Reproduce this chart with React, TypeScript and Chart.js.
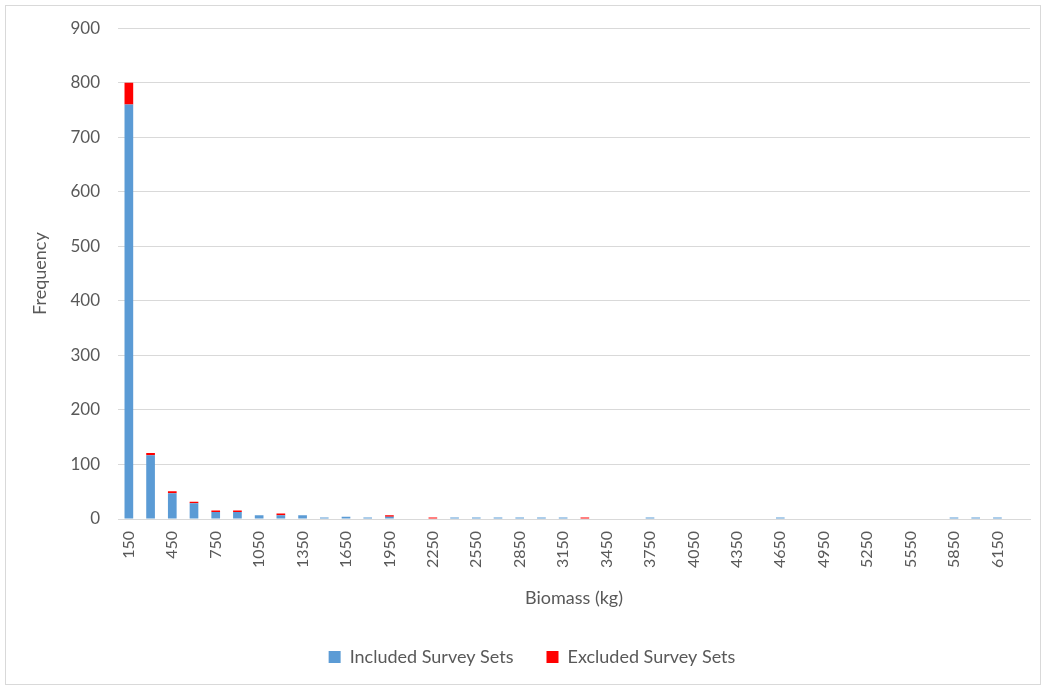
import { useEffect, useRef } from "react";
import { Chart, registerables } from "chart.js";

Chart.register(...registerables);

const binLabels = [
  "150", "300", "450", "600", "750", "900", "1050", "1200", "1350", "1500",
  "1650", "1800", "1950", "2100", "2250", "2400", "2550", "2700", "2850", "3000",
  "3150", "3300", "3450", "3600", "3750", "3900", "4050", "4200", "4350", "4500",
  "4650", "4800", "4950", "5100", "5250", "5400", "5550", "5700", "5850", "6000",
  "6150", "6300",
];

const includedSets = [
  760, 117, 47, 29, 13, 13, 7, 7, 7, 2,
  4, 2, 4, 0, 0, 1, 1, 1, 1, 1,
  1, 0, 0, 0, 1, 0, 0, 0, 0, 0,
  1, 0, 0, 0, 0, 0, 0, 0, 1, 1,
  1, 0,
];

const excludedSets = [
  40, 4, 4, 2, 2, 2, 0, 3, 0, 0,
  0, 0, 3, 0, 1, 0, 0, 0, 0, 0,
  0, 1, 0, 0, 0, 0, 0, 0, 0, 0,
  0, 0, 0, 0, 0, 0, 0, 0, 0, 0,
  0, 0,
];

const seriesNames = ["Included Survey Sets", "Excluded Survey Sets"];
const yMin = 0;
const yMax = 900;
const yStep = 100;

const FONT = "Lato, 'Open Sans', sans-serif";
const TEXT = "#595959";
const GRID = "#d9d9d9";

const orNull = (arr: number[]) => arr.map((v) => (v === 0 ? null : v));

export default function App() {
  const ref = useRef<HTMLCanvasElement | null>(null);

  useEffect(() => {
    if (!ref.current) return;
    const shiftLegend = {
      id: "shiftLegend",
      afterLayout(chart: any) {
        const lg = chart.legend;
        if (lg) {
          lg.left += 17;
          lg.right += 17;
        }
      },
    };
    const chart = new Chart(ref.current, {
      type: "bar",
      data: {
        labels: binLabels,
        datasets: [
          {
            label: seriesNames[0],
            data: orNull(includedSets),
            backgroundColor: "#5b9bd5",
            borderWidth: 0,
            barPercentage: 0.4,
            categoryPercentage: 1,
            minBarLength: 1.5,
          },
          {
            label: seriesNames[1],
            data: orNull(excludedSets),
            backgroundColor: "#ff0000",
            borderWidth: 0,
            barPercentage: 0.4,
            categoryPercentage: 1,
            minBarLength: 1.5,
          },
        ],
      },
      options: {
        responsive: false,
        animation: false,
        layout: { padding: { top: 28, right: 15, bottom: 13, left: 0 } },
        plugins: {
          legend: {
            position: "bottom",
            labels: {
              boxWidth: 12,
              boxHeight: 12,
              padding: 33,
              color: TEXT,
              font: { family: FONT, size: 18 },
            },
          },
          tooltip: { enabled: false },
        },
        scales: {
          x: {
            stacked: true,
            grid: { display: false, drawTicks: false },
            border: { display: true, color: GRID, width: 1 },
            ticks: {
              autoSkip: false,
              maxRotation: 90,
              minRotation: 90,
              padding: 12,
              color: TEXT,
              font: { family: FONT, size: 16 },
              callback: (_v: any, i: number) => (i % 2 === 0 ? binLabels[i] : ""),
            },
            title: {
              display: true,
              text: "Biomass (kg)",
              color: TEXT,
              font: { family: FONT, size: 18 },
              padding: { top: 0, bottom: 6 },
            },
            afterFit: (s: any) => {
              s.height = 96;
              s.paddingLeft = 0;
              s.paddingRight = 0;
            },
          },
          y: {
            stacked: true,
            min: yMin,
            max: yMax,
            grid: { color: GRID, lineWidth: 1, drawTicks: false },
            border: { display: false },
            ticks: {
              stepSize: yStep,
              padding: 18,
              color: TEXT,
              font: { family: FONT, size: 17 },
            },
            title: {
              display: true,
              text: "Frequency",
              color: TEXT,
              font: { family: FONT, size: 18 },
              padding: { top: 29, bottom: 0 },
            },
            afterFit: (s: any) => {
              s.width = 118;
            },
          },
        },
      },
      plugins: [shiftLegend],
    });
    return () => chart.destroy();
  }, []);

  return (
    <div style={{ position: "fixed", left: 0, top: 0, width: 1045, height: 689, background: "#fff" }}>
      <canvas ref={ref} width={1045} height={689} style={{ width: 1045, height: 689, display: "block" }} />
      <div
        style={{
          position: "absolute",
          left: 5,
          top: 5,
          width: 1034,
          height: 678,
          border: "1px solid #d9d9d9",
          pointerEvents: "none",
        }}
      />
    </div>
  );
}
